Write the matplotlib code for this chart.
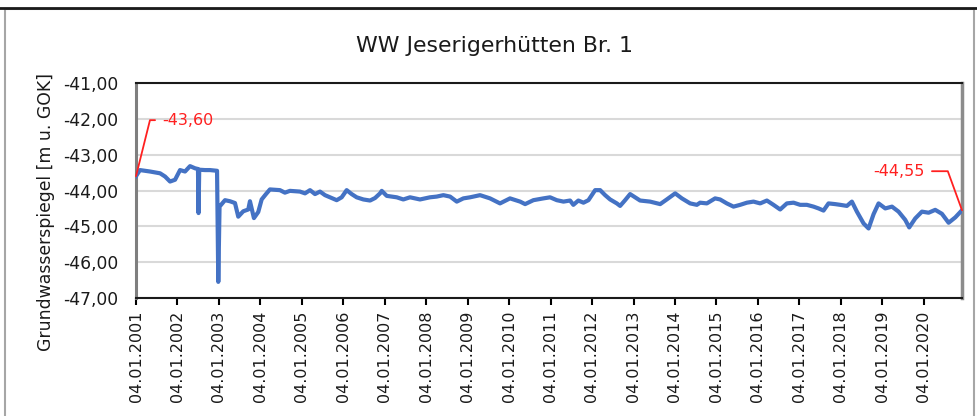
import numpy as np
import pandas as pd
import matplotlib
matplotlib.use('Agg')
import matplotlib.pyplot as plt
from matplotlib.patches import Rectangle
from matplotlib.lines import Line2D

# water level readings [m u. GOK]
dates = [
    '2001-01-04', '2001-02-08', '2001-05-07', '2001-08-04', '2001-09-17', '2001-10-31',
    '2001-12-14', '2002-01-27', '2002-03-12', '2002-04-25', '2002-06-08', '2002-07-04',
    '2002-07-09', '2002-07-15', '2002-09-04', '2002-10-18', '2002-12-19', '2002-12-30',
    '2003-01-10', '2003-02-27', '2003-04-12', '2003-05-26', '2003-06-24', '2003-08-07',
    '2003-09-20', '2003-10-05', '2003-11-09', '2003-12-17', '2004-01-16', '2004-02-23',
    '2004-03-29', '2004-06-25', '2004-08-08', '2004-09-21', '2004-12-18', '2005-02-01',
    '2005-03-17', '2005-04-30', '2005-06-13', '2005-07-27', '2005-09-09', '2005-11-07',
    '2005-12-21', '2006-02-03', '2006-03-19', '2006-05-02', '2006-06-30', '2006-08-28',
    '2006-10-11', '2006-11-24', '2006-12-09', '2007-01-22', '2007-04-20', '2007-06-17',
    '2007-08-15', '2007-11-11', '2008-02-07', '2008-04-06', '2008-06-04', '2008-08-02',
    '2008-09-30', '2008-11-27', '2009-01-25', '2009-04-23', '2009-07-20', '2009-10-16',
    '2010-01-12', '2010-04-11', '2010-05-25', '2010-08-06', '2010-11-02', '2010-12-31',
    '2011-02-28', '2011-04-28', '2011-06-25', '2011-07-24', '2011-09-06', '2011-10-21',
    '2011-12-04', '2012-01-02', '2012-02-01', '2012-03-16', '2012-04-29', '2012-06-12',
    '2012-08-10', '2012-09-08', '2012-10-22', '2012-12-05', '2013-01-18', '2013-03-03',
    '2013-05-30', '2013-08-27', '2013-10-24', '2014-01-06', '2014-03-06', '2014-05-18',
    '2014-07-16', '2014-08-14', '2014-10-12', '2014-12-24', '2015-02-06', '2015-04-06',
    '2015-06-04', '2015-08-02', '2015-09-30', '2015-11-27', '2016-01-25', '2016-03-24',
    '2016-05-21', '2016-07-19', '2016-09-16', '2016-11-14', '2017-01-11', '2017-03-11',
    '2017-05-09', '2017-06-22', '2017-08-05', '2017-09-18', '2017-11-16', '2017-12-30',
    '2018-02-27', '2018-04-12', '2018-05-26', '2018-07-24', '2018-09-06', '2018-10-20',
    '2018-12-03', '2019-01-31', '2019-03-31', '2019-05-28', '2019-07-26', '2019-08-30',
    '2019-10-22', '2019-12-20', '2020-02-17', '2020-04-15', '2020-06-13', '2020-08-11',
    '2020-10-09', '2020-12-07',
]
levels = [
    -43.60, -43.43, -43.47, -43.52, -43.61, -43.75,
    -43.70, -43.43, -43.47, -43.32, -43.38, -43.40,
    -44.63, -43.42, -43.43, -43.43, -43.45, -46.55,
    -44.45, -44.27, -44.30, -44.35, -44.73, -44.58,
    -44.53, -44.30, -44.77, -44.60, -44.25, -44.10,
    -43.97, -43.99, -44.06, -44.01, -44.03, -44.08,
    -43.99, -44.10, -44.03, -44.13, -44.19, -44.27,
    -44.19, -43.99, -44.10, -44.19, -44.25, -44.28,
    -44.21, -44.08, -44.01, -44.15, -44.19, -44.25,
    -44.19, -44.25, -44.19, -44.17, -44.13, -44.17,
    -44.31, -44.22, -44.19, -44.13, -44.22, -44.36,
    -44.22, -44.31, -44.38, -44.27, -44.22, -44.19,
    -44.27, -44.31, -44.28, -44.40, -44.28, -44.34,
    -44.27, -44.13, -43.99, -43.99, -44.13, -44.25,
    -44.36, -44.43, -44.27, -44.10, -44.19, -44.28,
    -44.31, -44.38, -44.25, -44.08, -44.22, -44.36,
    -44.40, -44.34, -44.36, -44.22, -44.25, -44.36,
    -44.45, -44.40, -44.34, -44.31, -44.36, -44.28,
    -44.40, -44.53, -44.36, -44.34, -44.40, -44.40,
    -44.45, -44.50, -44.56, -44.36, -44.38, -44.40,
    -44.43, -44.31, -44.59, -44.92, -45.06, -44.66,
    -44.36, -44.50, -44.45, -44.59, -44.82, -45.03,
    -44.78, -44.59, -44.62, -44.54, -44.65, -44.90,
    -44.75, -44.55,
]
tick_years = list(range(2001, 2021))
y_ticks = [-41, -42, -43, -44, -45, -46, -47]

t = pd.to_datetime(dates)
x_ticks = pd.to_datetime([f'{y}-01-04' for y in tick_years])

plt.rcParams['font.family'] = ['DejaVu Sans']
fig = plt.figure(figsize=(9.78, 4.16), dpi=100)
ax = fig.add_axes([136/978, 1-298/416, (962-136)/978, (298-83)/416])

ax.plot(t, levels, color='#4472C4', lw=3.0, solid_joinstyle='round', zorder=3)

ax.set_ylim(-47, -41)
ax.set_yticks(y_ticks)
ax.set_yticklabels([f'{v:.2f}'.replace('.', ',') for v in y_ticks])
ax.set_xlim(t[0], t[-1])
ax.set_xticks(x_ticks)
ax.set_xticklabels([d.strftime('%d.%m.%Y') for d in x_ticks], rotation=90)
ax.tick_params(axis='y', length=0, pad=13, labelsize=12.3, labelcolor='#1a1a1a')
ax.tick_params(axis='x', length=5, width=1.5, direction='out', pad=4,
               labelsize=11.5, labelcolor='#1a1a1a')
ax.grid(axis='y', color='#d9d9d9', lw=1.5)
ax.set_axisbelow(True)

for s in ['top', 'bottom']:
    ax.spines[s].set_color('#1a1a1a')
    ax.spines[s].set_linewidth(1.5)
ax.spines['left'].set_color('#7f7f7f')
ax.spines['left'].set_linewidth(2.2)
ax.spines['right'].set_color('#8c8c8c')
ax.spines['right'].set_linewidth(2.5)

# value labels at start and end
red = '#ff2020'
ax.annotate(f'{levels[0]:.2f}'.replace('.', ','), xy=(t[0], levels[0]),
            xytext=(26, 56), textcoords='offset pixels', ha='left', va='center',
            color=red, fontsize=11.5,
            arrowprops=dict(arrowstyle='-', color=red, lw=1.3, relpos=(0, 0.5),
                            connectionstyle='angle,angleA=0,angleB=76,rad=0',
                            shrinkA=3, shrinkB=0),
            annotation_clip=False, zorder=5)
ax.annotate(f'{levels[-1]:.2f}'.replace('.', ','), xy=(t[-1], levels[-1]),
            xytext=(-37, 39), textcoords='offset pixels', ha='right', va='center',
            color=red, fontsize=11.5,
            arrowprops=dict(arrowstyle='-', color=red, lw=1.3, relpos=(1, 0.5),
                            connectionstyle='angle,angleA=0,angleB=110,rad=0',
                            shrinkA=3, shrinkB=0),
            annotation_clip=False, zorder=5)

fig.text(494/978, 1-46/416, 'WW Jeserigerhütten Br. 1', ha='center', va='center',
         fontsize=15.8, color='#1a1a1a')
fig.text(46/978, 1-212/416, 'Grundwasserspiegel [m u. GOK]', rotation=90,
         ha='center', va='center', fontsize=12.4, color='#1a1a1a')

# chart frame
fig.patches.append(Rectangle((5/978, -0.05), 969/978, 1.05-9/416, transform=fig.transFigure,
                             fill=False, ec='#a6a6a6', lw=1.5))
fig.lines.append(Line2D([0, 1], [1-8/416, 1-8/416], transform=fig.transFigure,
                        color='#1a1a1a', lw=2))

fig.savefig('out.png', dpi=100)
